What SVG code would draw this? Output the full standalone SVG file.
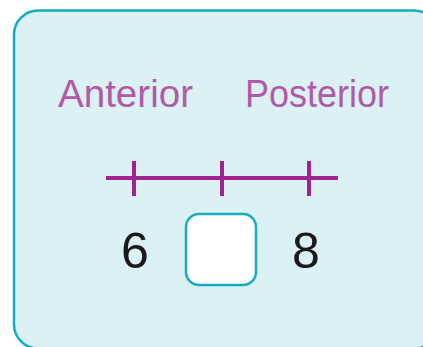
<svg xmlns="http://www.w3.org/2000/svg" width="423" height="347" viewBox="0 0 423 347">
<style>
.lbl{font-family:"Liberation Sans",Arial,sans-serif;font-size:39px;fill:#b05aa8}
.num{font-family:"Liberation Sans",Arial,sans-serif;font-size:50px;fill:#1a1a1a}
.axis{stroke:#a2228f;stroke-width:4;fill:none}
</style>
<g id="panel"><rect x="14" y="10.5" width="424" height="338" rx="24" fill="#dbf1f4" stroke="#17adc0" stroke-width="2.5"/></g>
<g id="label-anterior"><text class="lbl" x="58" y="107" textLength="135" lengthAdjust="spacingAndGlyphs">Anterior</text></g>
<g id="label-posterior"><text class="lbl" x="245" y="107" textLength="144" lengthAdjust="spacingAndGlyphs">Posterior</text></g>
<g id="connectors">
<line class="axis" x1="106" y1="178" x2="338" y2="178"/>
<line class="axis" x1="134" y1="161" x2="134" y2="196"/>
<line class="axis" x1="222" y1="161" x2="222" y2="196"/>
<line class="axis" x1="309" y1="161" x2="309" y2="196"/>
</g>
<g id="num-6"><text class="num" x="135" y="268" text-anchor="middle">6</text></g>
<g id="answer-box"><rect x="186" y="214" width="70" height="71" rx="13" fill="#ffffff" stroke="#17adc0" stroke-width="2.5"/></g>
<g id="num-8"><text class="num" x="306" y="268" text-anchor="middle">8</text></g>
</svg>
